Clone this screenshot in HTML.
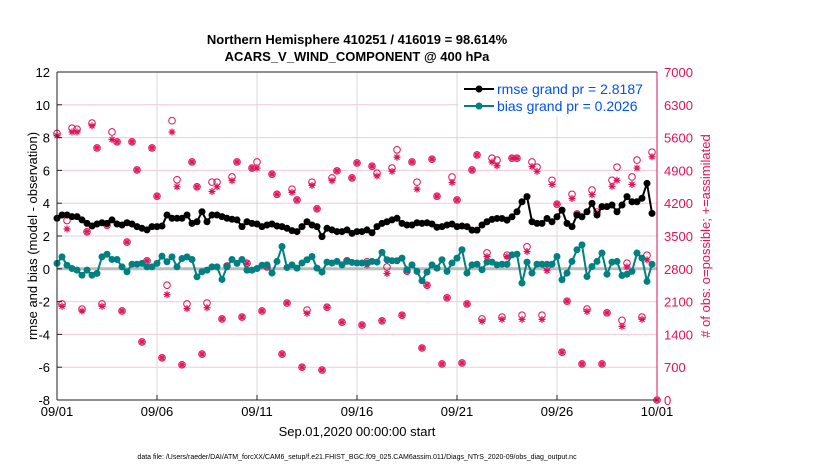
<!DOCTYPE html>
<html><head><meta charset="utf-8"><style>
body{margin:0;background:#fff;width:830px;height:470px;overflow:hidden;font-family:"Liberation Sans",sans-serif}
</style></head><body>
<svg id="chart" width="830" height="470" xmlns="http://www.w3.org/2000/svg" font-family="Liberation Sans, sans-serif">
<text x="357" y="44" text-anchor="middle" font-size="13" font-weight="bold">Northern Hemisphere 410251 / 416019 = 98.614%</text>
<text x="357" y="61" text-anchor="middle" font-size="13" font-weight="bold">ACARS_V_WIND_COMPONENT @ 400 hPa</text>
<g id="grid"></g><g id="marks"></g><g id="axes"></g>
<text x="357" y="436" text-anchor="middle" font-size="13">Sep.01,2020 00:00:00 start</text>
<text transform="translate(37,236) rotate(-90)" text-anchor="middle" font-size="13">rmse and bias (model - observation)</text>
<text transform="translate(710,236) rotate(-90)" text-anchor="middle" font-size="13" fill="#e0105a">#  of obs: o=possible; +=assimilated</text>
<text x="357" y="459" text-anchor="middle" font-size="7">data file: /Users/raeder/DAI/ATM_forcXX/CAM6_setup/f.e21.FHIST_BGC.f09_025.CAM6assim.011/Diags_NTrS_2020-09/obs_diag_output.nc</text>
<g id="legend">
<rect x="459" y="73" width="197" height="43" fill="#fff" stroke="#fff"/>
<line x1="464" y1="89" x2="494" y2="89" stroke="#000" stroke-width="2"/><circle cx="479" cy="89" r="3.5" fill="#000"/>
<text x="497" y="94" font-size="14" fill="#0050f0">rmse grand pr = 2.8187</text>
<line x1="464" y1="106" x2="494" y2="106" stroke="#008080" stroke-width="2"/><circle cx="479" cy="106" r="3.5" fill="#008080"/>
<text x="497" y="111" font-size="14" fill="#0050f0">bias grand pr = 0.2026</text>
</g>
</svg>
<script>
const rmse=[3.08,3.28,3.28,3.18,3.18,2.98,2.77,2.61,2.73,2.81,2.77,2.98,2.73,2.67,2.81,2.73,2.57,2.47,2.37,2.57,2.57,2.61,3.28,3.08,3.08,3.08,3.28,2.77,2.87,3.48,2.87,3.28,3.28,3.18,3.08,3.02,2.98,2.57,2.87,2.77,2.73,2.57,
2.67,2.73,2.61,2.57,2.47,2.33,2.27,2.57,2.87,2.67,2.57,1.96,2.47,2.37,2.27,2.27,2.37,2.16,2.27,2.27,2.37,2.20,2.57,2.77,2.87,2.98,3.08,2.77,2.67,2.67,2.81,2.77,2.81,2.73,2.53,2.57,2.67,2.73,2.57,
2.61,2.57,2.36,2.36,2.67,2.87,3.01,3.07,3.07,2.97,3.17,3.48,4.09,4.40,2.87,2.77,2.77,3.07,2.87,3.17,3.58,2.77,2.57,3.28,3.17,3.48,3.99,3.28,3.79,3.79,3.89,3.48,3.89,4.40,4.09,4.09,4.30,5.21,3.38];
const bias=[0.33,0.73,0.22,0.02,-0.08,-0.39,-0.08,-0.39,-0.28,0.73,0.89,0.57,0.57,0.12,-0.18,0.28,0.28,0.33,0.12,0.12,0.33,0.77,0.43,0.73,0.12,0.63,0.73,0.57,-0.49,-0.18,-0.08,0.12,0.12,-0.65,0.12,0.57,0.33,0.57,-0.08,-0.08,0.02,0.22,
0.24,-0.26,0.45,1.36,0.08,0.24,0.04,0.35,0.55,0.75,0.04,-0.20,0.41,0.35,0.45,0.24,0.45,0.39,0.35,0.35,0.35,0.45,0.41,1.00,0.55,0.49,0.49,0.65,-0.06,0.24,-0.16,-0.73,-0.20,0.24,0.04,0.55,-0.16,0.35,0.65,
1.16,-0.26,0.24,0.28,-0.06,0.41,0.41,0.24,0.28,0.28,0.85,0.89,-0.87,0.41,-0.26,0.28,0.28,0.28,0.28,0.75,-0.67,-0.26,0.45,1.16,1.46,-0.47,0.14,0.45,0.96,-0.33,0.41,0.45,-0.41,-0.33,-0.16,0.96,0.65,-0.77,0.28];
const obsPossible=[5690,2050,3830,5800,5780,1940,3590,5910,5380,2050,3730,5720,5510,1900,3370,5510,4910,1240,2970,5380,4350,900,2450,5960,4700,750,2050,5080,4550,980,2070,4650,4650,1730,2860,4760,5080,1770,2920,4950,5080,1900,
2840,4820,4390,980,2070,4500,4270,700,1920,4650,4080,640,1980,4740,4890,1660,2970,4740,5060,1600,2950,4990,4840,1690,2840,4950,5340,1810,2750,5080,4650,1110,2450,5140,4350,770,2180,4760,4270,790,
2050,4910,5230,1730,3140,5160,5120,1770,3090,5160,5160,1810,3270,5080,4970,1810,2840,4690,4180,1020,2110,4390,3970,770,1940,4480,4010,770,1860,4690,4970,1700,2920,4760,5120,1770,3090,5290,0];
const obsUsed=[5640,2000,3650,5720,5720,1900,3590,5850,5380,2000,3730,5560,5510,1900,3370,5510,4910,1240,2970,5380,4350,900,2250,5720,4550,750,1950,5080,4550,980,1970,4450,4550,1730,2860,4680,5080,1770,2920,4950,4950,1900,
2840,4820,4390,980,2070,4430,4270,700,1850,4580,4080,640,1980,4680,4890,1660,2970,4740,5060,1600,2880,4990,4780,1690,2700,4880,5180,1810,2750,5080,4500,1110,2450,5140,4350,770,2180,4640,4270,790,
2050,4910,5230,1680,3060,5080,5000,1720,3060,5160,5160,1720,3170,4980,4880,1720,2760,4600,4180,1020,2110,4300,3950,770,1890,4380,3980,770,1860,4560,4690,1570,2840,4600,4950,1720,2990,5190,0];
const xTicks=["09/01","09/06","09/11","09/16","09/21","09/26","10/01"];
const leftTicks=[-8,-6,-4,-2,0,2,4,6,8,10,12];
const rightTicks=[0,700,1400,2100,2800,3500,4200,4900,5600,6300,7000];

const NS="http://www.w3.org/2000/svg";
const L=57,R=657,T=72,B=400;
const xs=i=>L+(R-L)*(i/120);
const yl=v=>B-(v+8)/20*(B-T);
const yr=v=>B-v/7000*(B-T);
function mk(parent,tag,attrs){const e=document.createElementNS(NS,tag);for(const k in attrs)e.setAttribute(k,attrs[k]);parent.appendChild(e);return e;}
const grid=document.getElementById('grid'),marks=document.getElementById('marks'),axes=document.getElementById('axes');
rightTicks.forEach((t,k)=>{const y=yr(t);const g=mk(grid,'line',{x1:L,x2:R,y1:y,y2:y,stroke:'#f5c8d8','stroke-width':1});


const tl=mk(axes,'text',{x:R+7,y:y+5,'font-size':13,fill:'#e0105a'});tl.textContent=t;

});
xTicks.forEach((t,k)=>{const x=L+k*100;if(k>0&&k<6){const g=mk(grid,'line',{x1:x,x2:x,y1:T,y2:B,stroke:'#d8d8d8'});

}
const tl=mk(axes,'text',{x:x,y:416,'font-size':13,'text-anchor':'middle'});tl.textContent=t;


mk(axes,'line',{x1:x,x2:x,y1:B,y2:B-5,stroke:'#222'});});
leftTicks.forEach(t=>{const y=yl(t);const tl=mk(axes,'text',{x:L-7,y:y+5,'font-size':13,'text-anchor':'end'});tl.textContent=t;


mk(axes,'line',{x1:L,x2:L+5,y1:y,y2:y,stroke:'#222'});});
const zl=mk(grid,'line',{x1:L,x2:R,y1:yl(0),y2:yl(0),stroke:'#bbb','stroke-width':3});


mk(axes,'line',{x1:L,x2:L,y1:T,y2:B,stroke:'#222'});
mk(axes,'line',{x1:L,x2:R,y1:B,y2:B,stroke:'#222'});
mk(axes,'line',{x1:L,x2:R,y1:T,y2:T,stroke:'#222'});
mk(axes,'line',{x1:R,x2:R,y1:T,y2:B,stroke:'#e0105a'});
// obs
obsPossible.forEach((v,i)=>{const c=mk(marks,'circle',{cx:xs(i),cy:yr(v),r:3.3,fill:'none',stroke:'#e0105a','stroke-width':1});

});
obsUsed.forEach((v,i)=>{const x=xs(i),y=yr(v),r=3.5;let d='';for(let a=0;a<4;a++){const ang=a*Math.PI/4;d+=`M${x-r*Math.cos(ang)},${y-r*Math.sin(ang)}L${x+r*Math.cos(ang)},${y+r*Math.sin(ang)}`;}
const p=mk(marks,'path',{d:d,stroke:'#e0105a','stroke-width':1.2});

});
function series(arr,color,name){const pl=mk(marks,'polyline',{points:arr.map((v,i)=>xs(i)+','+yl(v)).join(' '),fill:'none',stroke:color,'stroke-width':2});


arr.forEach((v,i)=>{const c=mk(marks,'circle',{cx:xs(i),cy:yl(v),r:3.5,fill:color});

});}
series(bias,'#008080','bias');
series(rmse,'#000','rmse');
</script>
</body></html>
